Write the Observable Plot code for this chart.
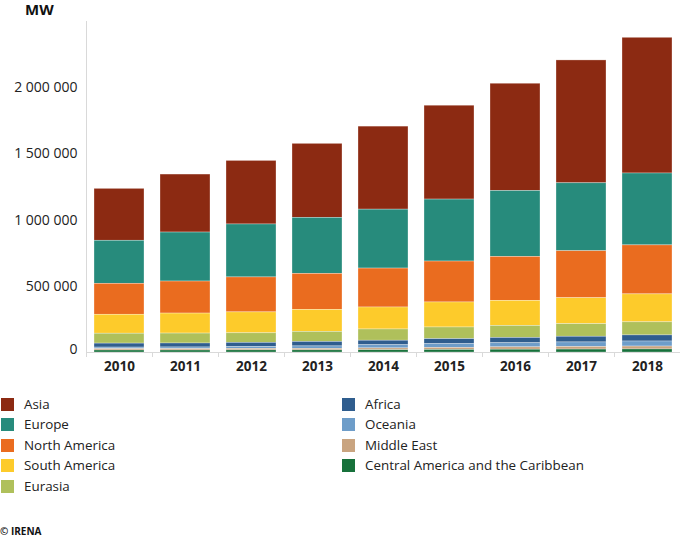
<!DOCTYPE html>
<html>
<head>
<meta charset="utf-8">
<script src="https://cdn.jsdelivr.net/npm/d3@7"></script>
<script src="https://cdn.jsdelivr.net/npm/@observablehq/plot@0.6"></script>
<style>
  html, body { margin: 0; padding: 0; background: #fff; }
  body { position: relative; width: 685px; height: 537px; font-family: "Open Sans", sans-serif; color: #222; overflow: hidden; }
  #title { position: absolute; left: 25px; top: 1px; font-size: 15px; font-weight: bold; line-height: 17px; color: #111; }
  #chart { position: absolute; left: 0; top: 18px; }
  #legend { position: absolute; left: 0; top: 396px; width: 685px; font-size: 13.4px; }
  .item { position: absolute; height: 16px; line-height: 16px; white-space: nowrap; }
  .sw { display: inline-block; width: 13px; height: 13px; vertical-align: -2px; margin-right: 10px; }
  #caption { position: absolute; left: 0; top: 524px; font-size: 10px; font-weight: bold; color: #111; }
</style>
</head>
<body>
<div id="title">MW</div>
<div id="chart"></div>
<div id="legend"></div>
<div id="caption">© IRENA</div>
<script>
// ---- data (MW) ----
const years = ["2010","2011","2012","2013","2014","2015","2016","2017","2018"];
const regions = ["Asia","Europe","North America","South America","Eurasia","Africa","Oceania","Middle East","Central America and the Caribbean"];
const colors  = ["#8c2a12","#278b7c","#ea6c1f","#fdcb2b","#afc05b","#2f5d8e","#6e9dc9","#c9a480","#17713b"];

const asia          = [392000, 438000, 480000, 559000, 627000, 709000, 810000, 928000, 1025000];
const europe        = [325000, 370000, 400000, 423000, 445000, 468000, 498000, 513000, 543000];
const northAmerica  = [234000, 242000, 264000, 272000, 294000, 309000, 332000, 355000, 370000];
const southAmerica  = [143000, 151000, 158000, 166000, 166000, 189000, 189000, 196000, 211000];
const eurasia       = [75000, 75000, 72000, 76000, 85000, 88000, 91000, 95000, 99000];
const africa        = [30000, 30000, 32000, 34000, 34000, 38000, 40000, 43000, 46000];
const oceania       = [11000, 12000, 13000, 18000, 24000, 28000, 31000, 34000, 38000];
const middleEast    = [11000, 11000, 12000, 12000, 14000, 16000, 18000, 20000, 22000];
const centralAmerica= [15000, 15000, 16000, 16000, 17000, 19000, 21000, 22000, 23000];

const yTicks = [0, 500000, 1000000, 1500000, 2000000];

const series = [asia, europe, northAmerica, southAmerica, eurasia, africa, oceania, middleEast, centralAmerica];
const data = [];
regions.forEach((r, i) => years.forEach((y, j) => data.push({year: y, region: r, value: series[i][j]})));
const bottomUp = regions.slice().reverse();

const W = 685, mL = 86, mR = 5;
const step = (W - mL - mR) / years.length;
const fmt = d => d3.format(",")(d).replace(/,/g, " ");

const plot = Plot.plot({
  width: W,
  height: 362,
  marginLeft: mL,
  marginRight: mR,
  marginTop: 3,
  marginBottom: 28,
  style: {fontFamily: "Open Sans", fontSize: "14px", color: "#222", background: "transparent"},
  x: {domain: years, type: "band", paddingInner: 0.24, paddingOuter: 0.12, label: null},
  y: {domain: [0, 2500000], label: null},
  color: {domain: regions, range: colors},
  marks: [
    Plot.barY(data, Plot.stackY({x: "year", y: "value", fill: "region", order: bottomUp,
      stroke: "white", strokeWidth: 0.6, strokeOpacity: 0.5})),
    Plot.ruleY([0], {stroke: "#d9d9d9"}),
    Plot.frame({anchor: "left", stroke: "#d9d9d9"}),
    Plot.axisY({ticks: yTicks.filter(d => d > 0), tickFormat: fmt, tickSize: 0, tickPadding: 9, label: null, fontSize: 14}),
    Plot.axisY({ticks: [0], tickFormat: fmt, tickSize: 0, tickPadding: 9, label: null, fontSize: 14, dy: -3}),
    Plot.axisX({tickSize: 0, tickPadding: 9, label: null, fontWeight: "bold", fontSize: 13.5}),
    Plot.axisX({tickSize: 5, tickFormat: () => "", label: null, dx: -step / 2, stroke: "#d9d9d9"})
  ]
});
document.getElementById("chart").appendChild(plot);

// ---- legend ----
const leg = document.getElementById("legend");
regions.forEach((r, i) => {
  const col = i < 5 ? 0 : 1;
  const row = i < 5 ? i : i - 5;
  const div = document.createElement("div");
  div.className = "item";
  div.style.left = (col === 0 ? 1 : 342) + "px";
  div.style.top = (row * 20.4) + "px";
  div.innerHTML = `<span class="sw" style="background:${colors[i]}"></span>${r}`;
  leg.appendChild(div);
});
</script>
</body>
</html>
